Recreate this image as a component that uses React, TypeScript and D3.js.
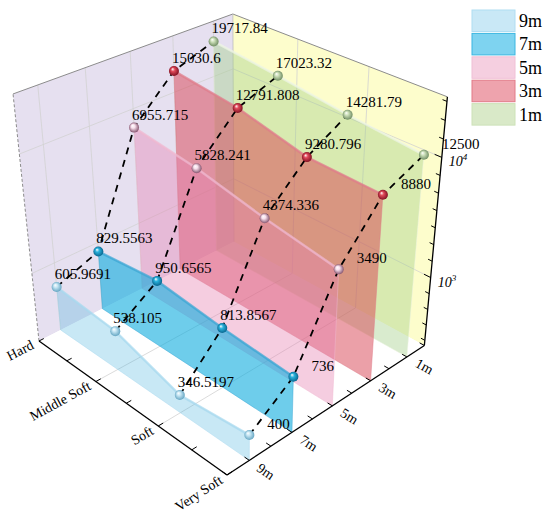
import React from "react";
import * as d3 from "d3";

// ---- data ----
const categories = ["Hard", "Middle Soft", "Soft", "Very Soft"];
const depths = ["9m", "7m", "5m", "3m", "1m"];
const values9m = [605.9691, 538.105, 346.5197, 400];
const values7m = [829.5563, 950.6565, 813.8567, 736];
const values5m = [6955.715, 5828.241, 4374.336, 3490];
const values3m = [15030.6, 12791.808, 9280.796, 8880];
const values1m = [19717.84, 17023.32, 14281.79, 12500];
const zMajorTicks = [1000, 10000];
const zMajorExponents = ["3", "4"];
const zDomain = [240, 29000];
const zMinorPerDecade = 7;

const seriesByDepth = [values9m, values7m, values5m, values3m, values1m];

// ---- styles per depth (same order as depths) ----
const planeFill = ["#48b2de", "#0dacde", "#e682b1", "#d74151", "#a5cf8a"];
const planeOpacity = [0.3, 0.6, 0.4, 0.5, 0.42];
const planeEdge = ["#a6d8ee", "#3aa6d4", "#f0b8d0", "#e07c8a", "#eef5e4"];
const legendFill = ["#c9e8f6", "#7ed3f0", "#f5cfe0", "#eea3ad", "#d9e9c8"];
const legendStroke = ["#b0ddf2", "#3bb6e2", "#f0c0d6", "#e27a88", "#cde2b8"];
const sphereLight = ["#c6e6f4", "#2bb3dd", "#f7e0ec", "#e04a5a", "#cde0ba"];
const sphereDark = ["#5b9fbd", "#055d86", "#7a4662", "#760a1c", "#66845a"];

// ---- perspective camera (vanishing points fitted to the picture) ----
const O = [39, 341];
const VP_U = [-1192, -536];
const VP_V = [1795, -554];
const VP_W = [244, 2292];
const LAM = [-0.1325, 0.1249, -0.1124];

function project(u: number, v: number, w: number): [number, number] {
  const a = LAM[0] * u, b = LAM[1] * v, c = LAM[2] * w;
  const xh = O[0] + a * VP_U[0] + b * VP_V[0] + c * VP_W[0];
  const yh = O[1] + a * VP_U[1] + b * VP_V[1] + c * VP_W[1];
  const h = 1 + a + b + c;
  return [xh / h, yh / h];
}

const FONT = "'Liberation Serif', 'Times New Roman', serif";

export default function App() {
  const width = 550, height = 520;

  const uScale = d3.scalePoint<string>().domain(categories).range([0, 1]);
  const vScale = d3.scalePoint<string>().domain(depths).range([0, 1]).padding(0.5);
  const zScale = d3.scaleLog().domain(zDomain).range([0, 1]);

  const line = d3.line<[number, number]>();
  const poly = (pts: [number, number][]) => line(pts) + "Z";
  const seg = (a: [number, number], b: [number, number]) => line([a, b]) as string;

  // grid
  const gridLines: string[] = [];
  depths.forEach((d) => gridLines.push(seg(project(0, vScale(d)!, 0), project(0, vScale(d)!, 1))));
  zMajorTicks.forEach((t) => {
    const w = zScale(t);
    gridLines.push(seg(project(0, 0, w), project(0, 1, w)));
    gridLines.push(seg(project(0, 1, w), project(1, 1, w)));
  });
  categories.slice(1, -1).forEach((c) => {
    const u = uScale(c)!;
    gridLines.push(seg(project(u, 1, 0), project(u, 1, 1)));
    gridLines.push(seg(project(u, 0, 0), project(u, 1, 0)));
  });

  // ticks on the z axis
  const zTickVals: { val: number; major: boolean }[] = [];
  const [lo, hi] = zDomain.map(Math.log10);
  for (let k = Math.floor(lo); k <= Math.ceil(hi); k++) {
    for (let i = 0; i < zMinorPerDecade; i++) {
      const e = k + i / zMinorPerDecade;
      if (e >= lo && e <= hi) zTickVals.push({ val: Math.pow(10, e), major: i === 0 });
    }
  }

  const layers = depths.map((d, i) => {
    const v = vScale(d)!;
    const vals = seriesByDepth[i];
    const top = vals.map((val, j) => project(uScale(categories[j])!, v, zScale(val)));
    return { d, i, v, vals, top };
  });

  const catTicks = d3.range(0, 7).map((k) => k / 6);
  const depthTicks = d3.range(0, 11).map((k) => k / 10);

  return (
    <div style={{ position: "absolute", left: 0, top: 0 }}>
      <svg width={width} height={height} style={{ display: "block", background: "#fff" }}>
        <defs>
          {depths.map((d, i) => (
            <radialGradient key={d} id={`sph-${i}`} cx="0.5" cy="0.5" r="0.55" fx="0.35" fy="0.3">
              <stop offset="0" stopColor="#ffffff" />
              <stop offset="0.35" stopColor={sphereLight[i]} />
              <stop offset="1" stopColor={sphereDark[i]} />
            </radialGradient>
          ))}
        </defs>

        {/* walls */}
        <path d={poly([project(0, 0, 0), project(0, 1, 0), project(0, 1, 1), project(0, 0, 1)])} fill="#e6e0f0" />
        <path d={poly([project(0, 1, 0), project(1, 1, 0), project(1, 1, 1), project(0, 1, 1)])} fill="#fdfdcc" />
        <path d={poly([project(0, 0, 0), project(1, 0, 0), project(1, 1, 0), project(0, 1, 0)])} fill="#ffffff" />

        {gridLines.map((g, k) => (
          <path key={k} d={g} stroke="#d2d2d2" strokeWidth={0.8} fill="none" />
        ))}

        {/* box edges */}
        <path d={seg(project(0, 0, 1), project(0, 1, 1))} stroke="#8c8c8c" strokeWidth={1} />
        <path d={seg(project(0, 1, 1), project(1, 1, 1))} stroke="#8c8c8c" strokeWidth={1} />
        <path d={seg(project(0, 0, 0), project(0, 0, 1))} stroke="#8c8c8c" strokeWidth={1} strokeDasharray="3,2" />
        <path d={seg(project(0, 1, 0), project(0, 1, 1))} stroke="#bdbdbd" strokeWidth={0.8} />

        {/* layer ribbons, back to front */}
        {layers.slice().reverse().map((L) => (
          <g key={L.d}>
            <path
              d={poly([...L.top, project(1, L.v, 0), project(0, L.v, 0)])}
              fill={planeFill[L.i]}
              fillOpacity={planeOpacity[L.i]}
              stroke={planeEdge[L.i]}
              strokeOpacity={0.6}
              strokeWidth={0.8}
            />
            <path d={line(L.top) as string} fill="none" stroke={planeEdge[L.i]} strokeWidth={2.5} strokeOpacity={0.7} />
          </g>
        ))}

        {/* value labels */}
        {layers.map((L) =>
          L.top.map((p, j) => {
            const last = j === categories.length - 1;
            return (
              <text
                key={`${L.d}-${j}`}
                x={p[0] + (last ? 18 : -2)}
                y={p[1] + (last ? -6 : -8)}
                fontFamily={FONT}
                fontSize={15}
                fill="#000"
              >
                {String(L.vals[j])}
              </text>
            );
          })
        )}

        {/* dashed connectors across depths */}
        {categories.map((c, j) => (
          <path
            key={c}
            d={line(layers.map((L) => L.top[j])) as string}
            fill="none"
            stroke="#000"
            strokeWidth={1.8}
            strokeDasharray="7,6"
          />
        ))}

        {/* spheres */}
        {layers.map((L) =>
          L.top.map((p, j) => (
            <circle key={`s-${L.d}-${j}`} cx={p[0]} cy={p[1]} r={5} fill={`url(#sph-${L.i})`} />
          ))
        )}

        {/* category axis */}
        <path d={seg(project(0, 0, 0), project(1, 0, 0))} stroke="#000" strokeWidth={1.3} />
        {catTicks.map((t) => (
          <path key={`ct${t}`} d={seg(project(t, 0, 0), project(t, 0.022, 0))} stroke="#000" strokeWidth={1} />
        ))}
        {categories.map((c) => {
          const u = uScale(c)!;
          const p0 = project(u, 0, 0);
          const p1 = project(u, 0.1, 0);
          const dx = p1[0] - p0[0], dy = p1[1] - p0[1];
          const len = Math.hypot(dx, dy);
          const ang = (Math.atan2(dy, dx) * 180) / Math.PI;
          const ax = p0[0] - (dx / len) * 7, ay = p0[1] - (dy / len) * 7;
          return (
            <text
              key={c}
              transform={`translate(${ax},${ay}) rotate(${ang})`}
              textAnchor="end"
              dominantBaseline="central"
              fontFamily={FONT}
              fontSize={14}
            >
              {c}
            </text>
          );
        })}

        {/* depth axis */}
        <path d={seg(project(1, 0, 0), project(1, 1, 0))} stroke="#000" strokeWidth={1.3} />
        {depthTicks.map((t) => (
          <path key={`dt${t}`} d={seg(project(1, t, 0), project(0.978, t, 0))} stroke="#000" strokeWidth={1} />
        ))}
        {depths.map((d) => {
          const v = vScale(d)!;
          const p0 = project(1, v, 0);
          const p1 = project(1.1, v, 0);
          const dx = p1[0] - p0[0], dy = p1[1] - p0[1];
          const len = Math.hypot(dx, dy);
          const ang = (Math.atan2(dy, dx) * 180) / Math.PI;
          const ax = p0[0] + (dx / len) * 11, ay = p0[1] + (dy / len) * 11;
          return (
            <text
              key={d}
              transform={`translate(${ax},${ay}) rotate(${ang})`}
              textAnchor="start"
              dominantBaseline="central"
              fontFamily={FONT}
              fontSize={14}
            >
              {d}
            </text>
          );
        })}

        {/* z axis */}
        <path d={seg(project(1, 1, 0), project(1, 1, 1))} stroke="#000" strokeWidth={1.3} />
        {zTickVals.map((t) => {
          const w = zScale(t.val);
          return (
            <path
              key={`zt${t.val}`}
              d={seg(project(1, 1, w), project(t.major ? 0.97 : 0.982, 1, w))}
              stroke="#000"
              strokeWidth={1}
            />
          );
        })}
        {zMajorTicks.map((t, k) => {
          const p = project(1, 1, zScale(t));
          return (
            <text key={`zl${t}`} x={p[0] + 7} y={p[1] + 9} fontFamily={FONT} fontSize={14} fontStyle="italic">
              10
              <tspan fontSize={9} dy={-6}>
                {zMajorExponents[k]}
              </tspan>
            </text>
          );
        })}

        {/* legend */}
        {depths.map((d, i) => (
          <g key={`lg${d}`} transform={`translate(472,${10 + i * 23.4})`}>
            <rect x={0} y={0} width={43} height={21.5} fill={legendFill[i]} stroke={legendStroke[i]} strokeWidth={1} />
            <text x={47} y={11} dominantBaseline="central" fontFamily={FONT} fontSize={18}>
              {d}
            </text>
          </g>
        ))}
      </svg>
    </div>
  );
}
